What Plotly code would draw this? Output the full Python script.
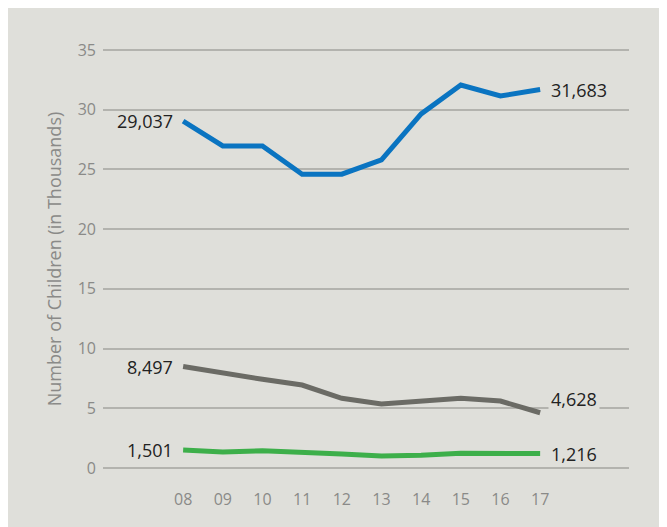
import plotly.graph_objects as go

# dane (w tysiącach)
years = ["08", "09", "10", "11", "12", "13", "14", "15", "16", "17"]
blue_vals = [29.037, 26.97, 26.97, 24.6, 24.6, 25.8, 29.65, 32.07, 31.15, 31.683]
gray_vals = [8.497, 7.93, 7.43, 6.95, 5.84, 5.36, 5.55, 5.84, 5.61, 4.628]
green_vals = [1.501, 1.34, 1.45, 1.34, 1.17, 1.0, 1.06, 1.23, 1.2, 1.216]
y_ticks = [0, 5, 10, 15, 20, 25, 30, 35]

BG = "#dfdfda"
FONT = "'Open Sans', Lato, sans-serif"
# strona ma własny margines 8 px, więc figura jest o tyle mniejsza
W, H = 659, 519
ML, MR, MT, MB = 95, 38, 36, 53

xs = list(range(len(years)))

fig = go.Figure()
series = [(blue_vals, "#0a74c1"), (gray_vals, "#6b6b65"), (green_vals, "#3daf4a")]
for vals, col in series:
    fig.add_trace(go.Scatter(x=xs, y=vals, mode="lines",
                             line=dict(color=col, width=5), showlegend=False,
                             hoverinfo="skip"))

# etykiety wartości na początku i końcu linii
def fmt(v):
    return f"{round(v * 1000):,}"

for vals, col in series:
    fig.add_annotation(x=xs[0], y=vals[0], text=fmt(vals[0]), showarrow=False,
                       xanchor="right", xshift=-8, font=dict(size=18, color="#222"))
    is_gray = vals is gray_vals
    # szara etykieta leży na linii siatki, więc ma tło zasłaniające linię
    fig.add_annotation(x=xs[-1], y=vals[-1], text=fmt(vals[-1]), showarrow=False,
                       xanchor="left", xshift=8, yshift=14 if is_gray else 0,
                       bgcolor=BG if is_gray else None, borderpad=2,
                       font=dict(size=18, color="#222"))

fig.update_xaxes(range=[-2.02, 11.24], tickvals=xs, ticktext=years,
                 showgrid=False, zeroline=False, showline=False, ticks="",
                 ticklabelstandoff=14, tickfont=dict(size=16, color="#8a8a88"))
fig.update_yaxes(range=[-0.5, 35.5], tickvals=y_ticks, showgrid=True,
                 gridcolor="#b3b3ae", gridwidth=1.5, zeroline=False, showline=False,
                 ticks="", ticklabelstandoff=6,
                 tickfont=dict(size=16, color="#8a8a88"))
fig.update_layout(
    yaxis_title_text="Number of Children (in Thousands)",
    yaxis_title_standoff=11,
    yaxis_title_font=dict(family="Open Sans", size=18, color="#8a8a88"),
)

fig.update_layout(width=W, height=H, margin=dict(l=ML, r=MR, t=MT, b=MB),
                  paper_bgcolor=BG, plot_bgcolor=BG, font=dict(family=FONT))

fig.write_html("out.html")
